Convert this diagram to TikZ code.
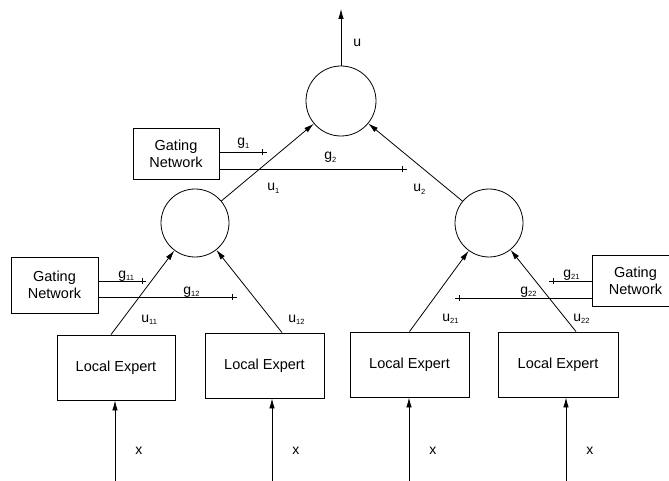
\documentclass[tikz,border=0pt]{standalone}
\usepackage{fontspec}
\setmainfont{Liberation Sans}
\usetikzlibrary{arrows.meta}
% lowered small index after a signal name
\newcommand{\idx}[1]{\raisebox{-2.5pt}{\fontsize{7.5}{8}\selectfont #1}}
\begin{document}
\begin{tikzpicture}[x=1pt,y=-1pt,line width=0.8pt,
  sumnode/.style={draw,circle,inner sep=0pt,minimum size=#1},
  blockbox/.style={draw,rectangle,inner sep=0pt,line width=0.9pt,
    font=\fontsize{14.5}{17}\selectfont,align=center},
  lbl/.style={anchor=base west,inner sep=0pt,font=\fontsize{14}{16}\selectfont},
  flow/.style={-{Latex[length=10pt,width=5.5pt]}},
  tick/.style={line width=0.8pt}]
\useasboundingbox (0,0) rectangle (669,481);
\clip (0,0) rectangle (669,481);

% combining nodes
\node[sumnode=70pt] (c0) at (341,101) {};
\node[sumnode=68pt] (c1) at (195,223) {};
\node[sumnode=68pt] (c2) at (489,223) {};

% gating networks
\node[blockbox,minimum width=86pt,minimum height=51pt] (gt) at (176,153.5) {Gating\\Network};
\node[blockbox,minimum width=87pt,minimum height=56pt] (gl) at (54.5,285) {Gating\\Network};
\node[blockbox,minimum width=87pt,minimum height=51pt] (gr) at (635.5,280.5) {Gating\\Network};

% local experts
\node[blockbox,minimum width=118pt,minimum height=65pt] (b1) at (116,367.5) {Local Expert};
\node[blockbox,minimum width=119pt,minimum height=65pt] (b2) at (264.5,365.5) {Local Expert};
\node[blockbox,minimum width=119pt,minimum height=65pt] (b3) at (409.5,364.5) {Local Expert};
\node[blockbox,minimum width=120pt,minimum height=65pt] (b4) at (558,364.5) {Local Expert};

% free ends
\coordinate (out) at (341,9);
\coordinate (in1) at (115,481);
\coordinate (in2) at (272,481);
\coordinate (in3) at (409,481);
\coordinate (in4) at (566,481);
\coordinate (g1e) at (267,152);
\coordinate (g2e) at (407,169);
\coordinate (g11e) at (146,281);
\coordinate (g12e) at (237,297);
\coordinate (g21e) at (549,281);
\coordinate (g22e) at (455,298);

% signal flow
\draw[flow] (c0.north) -- (out);
\draw[flow] (c1) -- (c0);
\draw[flow] (c2) -- (c0);
\draw[flow] ([xshift=-5pt]b1.north) -- (c1);
\draw[flow] ([xshift=17.5pt]b2.north) -- (c1);
\draw[flow] (b3.north) -- (c2);
\draw[flow] ([xshift=18pt]b4.north) -- (c2);
\draw[flow] (in1) -- (in1 |- b1.south);
\draw[flow] (in2) -- (in2 |- b2.south);
\draw[flow] (in3) -- (in3 |- b3.south);
\draw[flow] (in4) -- (in4 |- b4.south);

% gating outputs with end ticks
\draw (gt.east |- g1e) -- (g1e);
\draw[tick] ([xshift=-5pt]g1e) ++(0,-3) -- ++(0,6);
\draw (gt.east |- g2e) -- (g2e);
\draw[tick] ([xshift=-5pt]g2e) ++(0,-3) -- ++(0,6);
\draw (gl.east |- g11e) -- (g11e);
\draw[tick] ([xshift=-4pt]g11e) ++(0,-3) -- ++(0,6);
\draw (gl.east |- g12e) -- (g12e);
\draw[tick] ([xshift=-5pt]g12e) ++(0,-3) -- ++(0,6);
\draw (gr.west |- g21e) -- (g21e);
\draw[tick] ([xshift=4pt]g21e) ++(0,-3) -- ++(0,6);
\draw (gr.west |- g22e) -- (g22e);
\draw[tick] ([xshift=4pt]g22e) ++(0,-3) -- ++(0,6);

% labels
\node[lbl] (lu) at (353,47) {u};
\node[lbl] (lg1) at (237,146) {g\idx{1}};
\node[lbl] (lg2) at (324,160) {g\idx{2}};
\node[lbl] (lu1) at (267,191) {u\idx{1}};
\node[lbl] (lu2) at (413,192) {u\idx{2}};
\node[lbl] (lg11) at (118,278) {g\idx{11}};
\node[lbl] (lg12) at (183,294) {g\idx{12}};
\node[lbl] (lu11) at (141,322) {u\idx{11}};
\node[lbl] (lu12) at (288,322) {u\idx{12}};
\node[lbl] (lg21) at (563,277) {g\idx{21}};
\node[lbl] (lg22) at (520,294) {g\idx{22}};
\node[lbl] (lu21) at (442,321) {u\idx{21}};
\node[lbl] (lu22) at (573,321) {u\idx{22}};
\node[lbl] (lx1) at (135,454) {x};
\node[lbl] (lx2) at (292,454) {x};
\node[lbl] (lx3) at (429,454) {x};
\node[lbl] (lx4) at (586,454) {x};
\end{tikzpicture}
\end{document}
